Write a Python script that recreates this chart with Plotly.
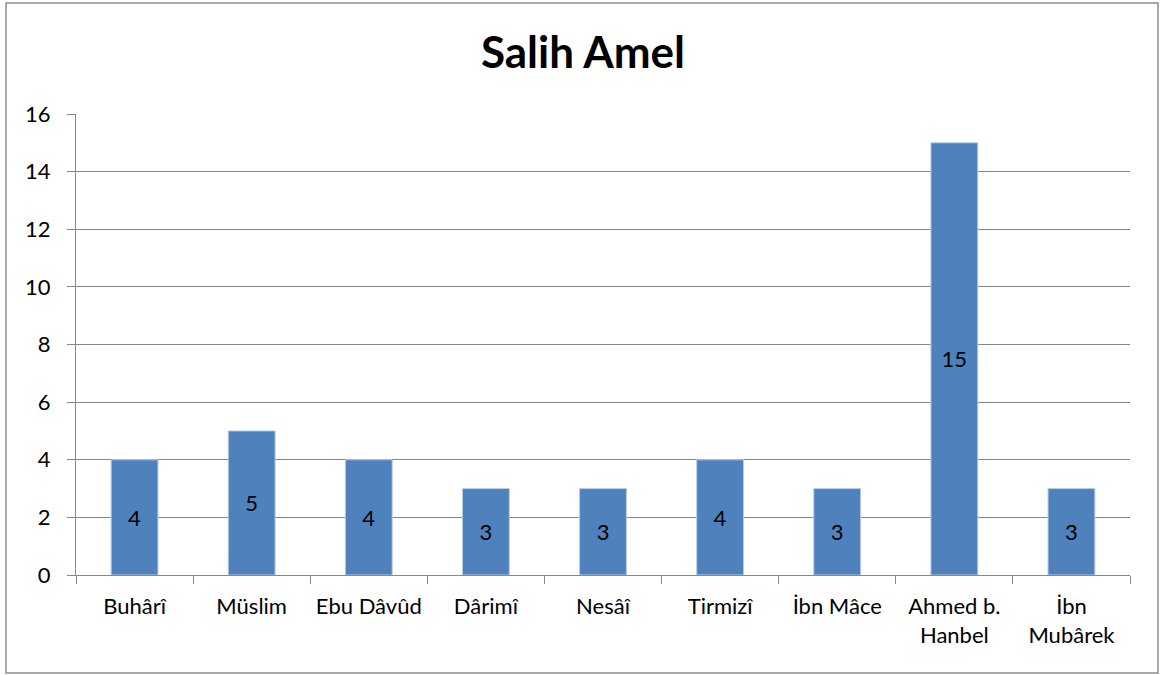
import plotly.graph_objects as go

categories = ["Buhârî", "Müslim", "Ebu Dâvûd", "Dârimî", "Nesâî", "Tirmizî",
              "İbn Mâce", "Ahmed b.<br>Hanbel", "İbn<br>Mubârek"]
values = [4, 5, 4, 3, 3, 4, 3, 15, 3]
y_ticks = [0, 2, 4, 6, 8, 10, 12, 14, 16]

W, H = 1166, 675
L, R, T, B = 76, 36, 114, 100
pw, ph = W - L - R, H - T - B

font_family = "Lato, Open Sans, sans-serif"

fig = go.Figure(go.Bar(
    x=categories,
    y=values,
    text=values,
    textposition="inside",
    insidetextanchor="middle",
    textfont=dict(size=22, color="black", family=font_family),
    marker=dict(color="#4F81BD", line=dict(color="#B9CDE5", width=1)),
))

fig.update_layout(
    width=W, height=H,
    margin=dict(l=L, r=R, t=T, b=B),
    paper_bgcolor="white",
    plot_bgcolor="white",
    bargap=0.6,
    showlegend=False,
    font=dict(family=font_family, size=22, color="black"),
    title=dict(text="<b>Salih Amel</b>", x=0.5, xanchor="center",
               y=1 - 53 / H, yanchor="middle",
               font=dict(size=44, family=font_family, color="black")),
    uniformtext=dict(mode="show", minsize=22),
)

fig.update_xaxes(
    showline=True, linecolor="#888888", linewidth=1,
    ticks="outside", tickson="boundaries", ticklen=8, tickcolor="#888888",
    showgrid=False, tickfont=dict(size=22), ticklabelstandoff=12,
    tickangle=0, automargin=False,
)
fig.update_yaxes(
    range=[0, 16], tickvals=y_ticks,
    showline=True, linecolor="#888888", linewidth=1,
    ticks="outside", ticklen=8, tickcolor="#888888",
    showgrid=True, gridcolor="#868686", gridwidth=1,
    zeroline=False, tickfont=dict(size=22), ticklabelstandoff=12,
    automargin=False,
)

# outer chart border
fig.add_shape(type="rect", xref="paper", yref="paper",
              x0=(6 - L) / pw, x1=(1158 - L) / pw,
              y0=(H - B - 673) / ph, y1=(H - B - 3) / ph,
              line=dict(color="#8C8C8C", width=1.5))

fig.write_html("out.html", config={"displayModeBar": False},
               post_script="document.body.style.margin='0';")
